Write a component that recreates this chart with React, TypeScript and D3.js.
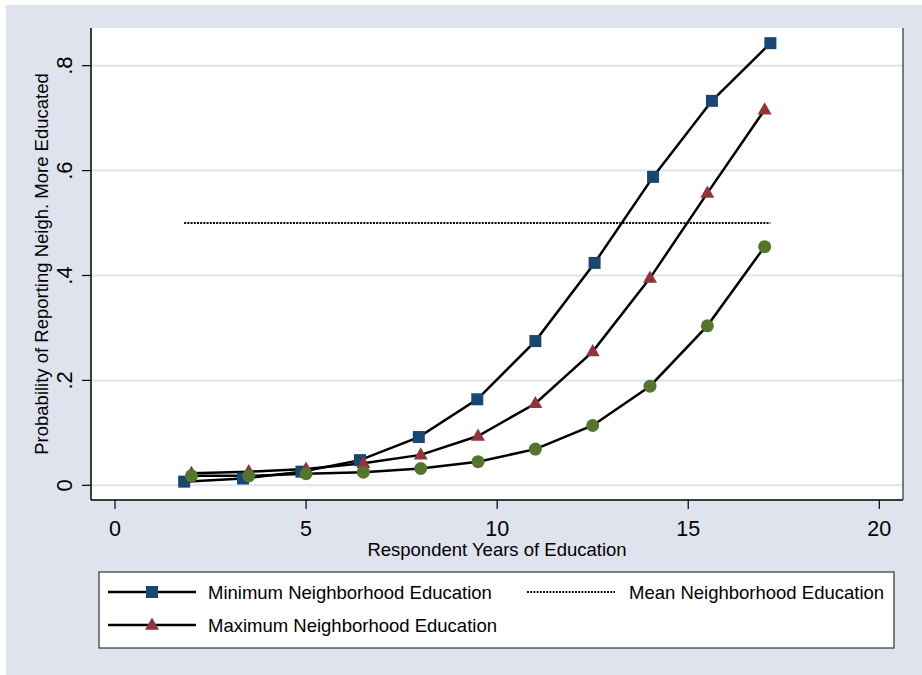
import React from "react";
import * as d3 from "d3";

const xTicks = [0, 5, 10, 15, 20];
const yTicks = [0, 0.2, 0.4, 0.6, 0.8];
const yTickLabels = ["0", ".2", ".4", ".6", ".8"];

const minEduX = [1.81, 3.35, 4.88, 6.41, 7.95, 9.48, 11.0, 12.55, 14.08, 15.62, 17.15];
const minEduY = [0.007, 0.013, 0.026, 0.048, 0.092, 0.164, 0.275, 0.424, 0.588, 0.733, 0.843];

const eduX = [2, 3.5, 5, 6.5, 8, 9.5, 11, 12.5, 14, 15.5, 17];
const maxEduY = [0.023, 0.026, 0.031, 0.042, 0.058, 0.094, 0.156, 0.255, 0.395, 0.557, 0.716];
const otherEduY = [0.018, 0.018, 0.022, 0.025, 0.032, 0.045, 0.069, 0.114, 0.189, 0.304, 0.455];

const meanX = [1.81, 17.15];
const meanY = [0.5, 0.5];

const legendLabels = [
  "Minimum Neighborhood Education",
  "Mean Neighborhood Education",
  "Maximum Neighborhood Education",
];

const NAVY = "#1a476f";
const MAROON = "#90353b";
const GREEN = "#55752f";
const BG = "#dfe3ee";
const GRID = "#dfe3ee";
const FONT = "'Liberation Sans', Arial, Helvetica, sans-serif";

export default function App() {
  const W = 922;
  const H = 675;
  const plotL = 91, plotR = 903, plotT = 28, plotB = 500;
  const x = d3.scaleLinear().domain([0, 20]).range([115, 879.3]);
  const y = d3.scaleLinear().domain([0, 0.8]).range([485.3, 65.7]);

  const line = d3
    .line<[number, number]>()
    .x((d) => x(d[0]))
    .y((d) => y(d[1]));

  const minPts: [number, number][] = minEduX.map((v, i) => [v, minEduY[i]]);
  const maxPts: [number, number][] = eduX.map((v, i) => [v, maxEduY[i]]);
  const othPts: [number, number][] = eduX.map((v, i) => [v, otherEduY[i]]);
  const meanPts: [number, number][] = meanX.map((v, i) => [v, meanY[i]]);

  const sq = 12;
  const tri = (cx: number, cy: number, s = 14) => {
    const h = s * 0.87;
    return `M${cx},${cy - h * 0.62} L${cx + s / 2},${cy + h * 0.38} L${cx - s / 2},${cy + h * 0.38} Z`;
  };

  const leg1Y = 592;
  const leg2Y = 625;

  return (
    <svg
      width={W}
      height={H}
      style={{ position: "absolute", left: 0, top: 0 }}
      fontFamily={FONT}
    >
      <rect x={0} y={0} width={W} height={H} fill="#ffffff" />
      <rect x={6} y={5} width={W - 6} height={H - 5} fill={BG} />
      <rect x={plotL} y={plotT} width={plotR - plotL} height={plotB - plotT} fill="#ffffff" />

      {/* grid */}
      {yTicks.map((t) => (
        <line key={"g" + t} x1={plotL} x2={plotR} y1={y(t)} y2={y(t)} stroke={GRID} strokeWidth={2} />
      ))}

      {/* axes */}
      <line x1={plotL} x2={plotL} y1={plotT} y2={plotB} stroke="#000" strokeWidth={1.5} />
      <line x1={plotL} x2={plotR} y1={plotB} y2={plotB} stroke="#000" strokeWidth={1.5} />
      <line x1={plotR} x2={plotR} y1={plotT} y2={plotB} stroke="#555" strokeWidth={1.5} />

      {yTicks.map((t, i) => (
        <g key={"yt" + t}>
          <line x1={82} x2={plotL} y1={y(t)} y2={y(t)} stroke="#000" strokeWidth={1.2} />
          <text
            transform={`translate(72,${y(t)}) rotate(-90)`}
            textAnchor="middle"
            fontSize={22}
            fill="#000"
          >
            {yTickLabels[i]}
          </text>
        </g>
      ))}
      {xTicks.map((t) => (
        <g key={"xt" + t}>
          <line x1={x(t)} x2={x(t)} y1={plotB} y2={509} stroke="#000" strokeWidth={1.2} />
          <text x={x(t)} y={536} textAnchor="middle" fontSize={21.5} fill="#000">
            {t}
          </text>
        </g>
      ))}

      <text x={497} y={556} textAnchor="middle" fontSize={18.5} fill="#000">
        Respondent Years of Education
      </text>
      <text
        transform={`translate(48,264) rotate(-90)`}
        textAnchor="middle"
        fontSize={18.5}
        fill="#000"
      >
        Probability of Reporting Neigh. More Educated
      </text>

      {/* mean dotted line */}
      <path d={line(meanPts) || ""} fill="none" stroke="#000" strokeWidth={2} strokeDasharray="2,1.2" />

      {/* series lines */}
      <path d={line(minPts) || ""} fill="none" stroke="#000" strokeWidth={2.5} />
      <path d={line(maxPts) || ""} fill="none" stroke="#000" strokeWidth={2.5} />
      <path d={line(othPts) || ""} fill="none" stroke="#000" strokeWidth={2.5} />

      {/* markers */}
      {minPts.map((p, i) => (
        <rect key={"s" + i} x={x(p[0]) - sq / 2} y={y(p[1]) - sq / 2} width={sq} height={sq} fill={NAVY} />
      ))}
      {maxPts.map((p, i) => (
        <path key={"t" + i} d={tri(x(p[0]), y(p[1]))} fill={MAROON} />
      ))}
      {othPts.map((p, i) => (
        <circle key={"c" + i} cx={x(p[0])} cy={y(p[1])} r={6.5} fill={GREEN} />
      ))}

      {/* legend */}
      <rect x={99} y={572} width={795} height={76} fill="#ffffff" stroke="#333" strokeWidth={1.2} />
      <line x1={108} x2={196} y1={leg1Y} y2={leg1Y} stroke="#000" strokeWidth={2.5} />
      <rect x={152 - sq / 2} y={leg1Y - sq / 2} width={sq} height={sq} fill={NAVY} />
      <text x={208} y={leg1Y + 6.5} fontSize={18.5} fill="#000">
        {legendLabels[0]}
      </text>
      <line x1={527} x2={615} y1={leg1Y} y2={leg1Y} stroke="#000" strokeWidth={2} strokeDasharray="2,1.2" />
      <text x={629} y={leg1Y + 6.5} fontSize={18.5} fill="#000">
        {legendLabels[1]}
      </text>
      <line x1={108} x2={196} y1={leg2Y} y2={leg2Y} stroke="#000" strokeWidth={2.5} />
      <path d={tri(152, leg2Y)} fill={MAROON} />
      <text x={208} y={leg2Y + 6.5} fontSize={18.5} fill="#000">
        {legendLabels[2]}
      </text>
    </svg>
  );
}
